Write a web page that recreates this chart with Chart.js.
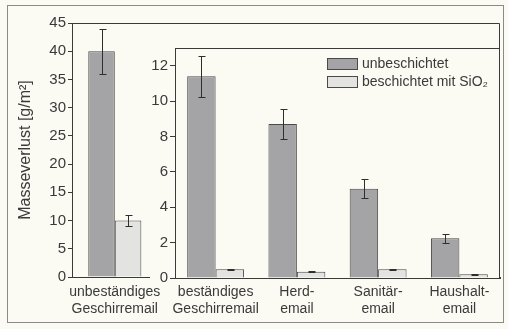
<!DOCTYPE html>
<html>
<head>
<meta charset="utf-8">
<script src="https://cdn.jsdelivr.net/npm/chart.js@4"></script>
<style>
  body { margin: 0; background: #fbfbf3; }
  #wrap { position: relative; width: 508px; height: 329px; }
  #frame { position: absolute; left: 7px; top: 5px; width: 495px; height: 316px; border: 1px solid #8a8a8a; }
  #mainChart { position: absolute; left: 0; top: 0; }
  #insetChart { position: absolute; left: 150px; top: 35px; }
</style>
</head>
<body>
<div id="wrap">
  <div id="frame"></div>
  <canvas id="mainChart" width="508" height="329"></canvas>
  <canvas id="insetChart" width="358" height="294"></canvas>
</div>
<script>
const seriesNames = ['unbeschichtet', 'beschichtet mit SiO\u2082'];

const mainLabels = [['unbeständiges', 'Geschirremail'], '', '', '', ''];
const mainUncoated = [40, null, null, null, null];
const mainUncoatedErr = [4, null, null, null, null];
const mainCoated = [10, null, null, null, null];
const mainCoatedErr = [1, null, null, null, null];

const insetLabels = [['beständiges', 'Geschirremail'], ['Herd-', 'email'], ['Sanitär-', 'email'], ['Haushalt-', 'email']];
const insetUncoated = [11.4, 8.7, 5.05, 2.25];
const insetUncoatedErr = [1.15, 0.85, 0.53, 0.25];
const insetCoated = [0.49, 0.36, 0.49, 0.21];
const insetCoatedErr = [0.04, 0.03, 0.04, 0.02];

const bg = '#fbfbf3';
const ink = '#3a3a3a';
const darkFill = '#a4a4a6';
const lightFill = '#e3e3e1';
const edge = '#4a4a4a';
const font = '"Liberation Sans", Arial, sans-serif';

const errorBars = {
    id: 'errorBars',
    afterDatasetsDraw(chart) {
        const ctx = chart.ctx;
        const yScale = chart.scales.y;
        ctx.save();
        ctx.strokeStyle = '#2e2e2e';
        ctx.lineWidth = 1;
        chart.data.datasets.forEach((ds, di) => {
            const meta = chart.getDatasetMeta(di);
            meta.data.forEach((bar, i) => {
                const v = ds.data[i];
                const e = ds.errors[i];
                if (v == null || e == null) return;
                const x = Math.round(bar.x) + 0.5;
                const top = Math.round(yScale.getPixelForValue(v + e)) + 0.5;
                const bot = Math.round(yScale.getPixelForValue(v - e)) + 0.5;
                ctx.beginPath();
                ctx.moveTo(x, top);
                ctx.lineTo(x, bot);
                ctx.moveTo(x - 3, top);
                ctx.lineTo(x + 4, top);
                ctx.moveTo(x - 3, bot);
                ctx.lineTo(x + 4, bot);
                ctx.stroke();
            });
        });
        ctx.restore();
    }
};

const frameLines = {
    id: 'frameLines',
    afterDraw(chart) {
        const a = chart.chartArea;
        const ctx = chart.ctx;
        const l = Math.round(a.left) + 0.5;
        const r = Math.round(a.right) - 0.5;
        const t = Math.round(a.top) + 0.5;
        const b = Math.round(a.bottom) - 0.5;
        ctx.save();
        ctx.strokeStyle = ink;
        ctx.lineWidth = 1;
        ctx.beginPath();
        ctx.moveTo(l, t);
        ctx.lineTo(r, t);
        ctx.lineTo(r, b);
        ctx.stroke();
        ctx.restore();
    }
};

// covers the main chart behind the inset, leaving the shared right border
const insetBackground = {
    id: 'insetBackground',
    beforeDraw(chart) {
        const ctx = chart.ctx;
        ctx.save();
        ctx.fillStyle = bg;
        ctx.fillRect(0, 0, Math.round(chart.chartArea.right) - 1, chart.chartArea.bottom + 1);
        ctx.restore();
    }
};

const insetLegend = {
    id: 'insetLegend',
    afterDraw(chart) {
        const ctx = chart.ctx;
        const a = chart.chartArea;
        const x = a.right - 173;
        let y = a.top + 10;
        ctx.save();
        ctx.font = '14px ' + font;
        ctx.textBaseline = 'middle';
        chart.data.datasets.forEach((ds) => {
            ctx.fillStyle = ds.backgroundColor;
            ctx.fillRect(x, y, 30, 11);
            ctx.strokeStyle = edge;
            ctx.strokeRect(x + 0.5, y + 0.5, 30, 11);
            ctx.fillStyle = ink;
            ctx.fillText(ds.label, x + 35, y + 6);
            y += 18;
        });
        ctx.restore();
    }
};

function makeDatasets(values, errs) {
    return [
        {
            label: seriesNames[0],
            data: values[0],
            errors: errs[0],
            backgroundColor: darkFill,
            borderColor: edge,
            borderWidth: 1
        },
        {
            label: seriesNames[1],
            data: values[1],
            errors: errs[1],
            backgroundColor: lightFill,
            borderColor: edge,
            borderWidth: 1
        }
    ];
}

Chart.defaults.font.family = font;
Chart.defaults.color = ink;

new Chart(document.getElementById('mainChart'), {
    type: 'bar',
    data: {
        labels: mainLabels,
        datasets: makeDatasets([mainUncoated, mainCoated], [mainUncoatedErr, mainCoatedErr])
    },
    options: {
        responsive: false,
        devicePixelRatio: 1,
        animation: false,
        categoryPercentage: 0.62,
        barPercentage: 1,
        layout: { padding: { left: 10, top: 23, right: 8, bottom: 0 } },
        plugins: { legend: { display: false }, tooltip: { enabled: false } },
        scales: {
            x: {
                grid: { display: false, drawTicks: false },
                border: { color: ink },
                ticks: { font: { size: 14, lineHeight: 1.2 }, padding: 7, maxRotation: 0, autoSkip: false },
                afterFit: (s) => { s.height = 52; }
            },
            y: {
                min: 0,
                max: 45,
                ticks: { stepSize: 5, font: { size: 15 }, padding: 2 },
                grid: { drawOnChartArea: false, tickLength: 4, color: ink },
                border: { color: ink },
                title: { display: true, text: 'Masseverlust [g/m²]', font: { size: 16 }, padding: { top: 6, bottom: 0 } },
                afterFit: (s) => { s.width = 62; }
            }
        }
    },
    plugins: [errorBars, frameLines]
});

new Chart(document.getElementById('insetChart'), {
    type: 'bar',
    data: {
        labels: insetLabels,
        datasets: makeDatasets([insetUncoated, insetCoated], [insetUncoatedErr, insetCoatedErr])
    },
    options: {
        responsive: false,
        devicePixelRatio: 1,
        animation: false,
        categoryPercentage: 0.7,
        barPercentage: 1,
        layout: { padding: { left: 0, top: 13, right: 8, bottom: 0 } },
        plugins: { legend: { display: false }, tooltip: { enabled: false } },
        scales: {
            x: {
                grid: { display: false, drawTicks: false },
                border: { color: ink },
                ticks: { font: { size: 14, lineHeight: 1.2 }, padding: 6, maxRotation: 0, autoSkip: false },
                afterFit: (s) => { s.height = 51; }
            },
            y: {
                min: 0,
                max: 13,
                ticks: {
                    stepSize: 2,
                    font: { size: 15 },
                    padding: 2,
                    callback: (v) => (v % 2 === 0 ? v : null)
                },
                grid: { drawOnChartArea: false, tickLength: 5, color: ink },
                border: { color: ink },
                afterFit: (s) => { s.width = 25; }
            }
        }
    },
    plugins: [insetBackground, errorBars, frameLines, insetLegend]
});
</script>
</body>
</html>
